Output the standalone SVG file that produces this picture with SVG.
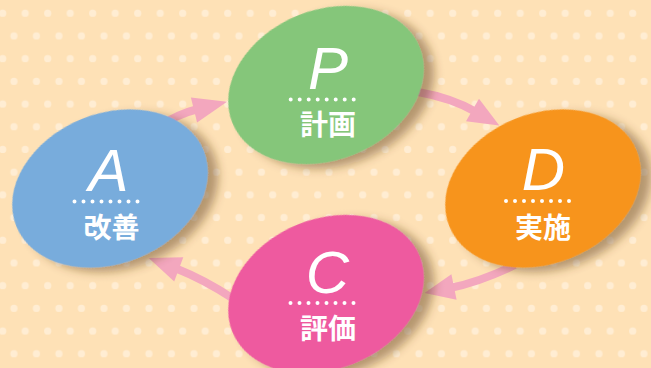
<svg xmlns="http://www.w3.org/2000/svg" width="651" height="368" viewBox="0 0 651 368">
<defs>
<pattern id="dots" patternUnits="userSpaceOnUse" x="-2.9" y="0" width="22.5" height="45.4">
<circle cx="5.6" cy="13.3" r="3.6" fill="#FFEDD3"/>
<circle cx="16.85" cy="36" r="3.6" fill="#FFEDD3"/>
</pattern>
<filter id="sh" x="-20%" y="-20%" width="150%" height="150%">
<feDropShadow dx="8" dy="8" stdDeviation="5" flood-color="#5a3c14" flood-opacity="0.45"/>
</filter>
</defs>
<style>
.body{fill:none;stroke:#F3A7BE;stroke-width:8}
.head{fill:#F3A7BE}
.let{font-family:"Liberation Sans",Arial,sans-serif;font-style:italic;font-size:60px;fill:#fff;text-anchor:middle}
.kj{font-family:"Noto Sans CJK JP","Noto Sans CJK SC",sans-serif;font-weight:700;font-size:28px;fill:#fff;text-anchor:middle}
.dot{stroke:#fff;stroke-width:4;stroke-linecap:round;stroke-dasharray:0 9}
</style>
<rect width="651" height="368" fill="#FEE1B6"/>
<rect width="651" height="368" fill="url(#dots)"/>
<g id="connectors">
<path class="body" d="M160,126 Q178,114 198,109"/>
<polygon class="head" points="227,101.8 197.1,122.6 190.9,97.4"/>
<path class="body" d="M418,92 Q452,98 476,112"/>
<polygon class="head" points="499.3,125.6 466,121.2 479,98.8"/>
<path class="body" d="M515,265 Q480,282 450,288"/>
<polygon class="head" points="424.5,293 456.6,299.7 451.4,274.3"/>
<path class="body" d="M232,298 Q205,280 175,268"/>
<polygon class="head" points="148.7,258 183.3,257.2 174.2,281.6"/>
</g>
<g id="nodeP">
<ellipse cx="0" cy="0" rx="101" ry="75" transform="translate(326,85) rotate(-22)" fill="#85C67A" filter="url(#sh)"/>
<text class="let" x="328" y="89">P</text>
<line class="dot" x1="290.7" y1="99.5" x2="362.7" y2="99.5"/>
<text class="kj" x="328" y="135">計画</text>
</g>
<g id="nodeD">
<ellipse cx="0" cy="0" rx="101" ry="75" transform="translate(543,188.5) rotate(-22)" fill="#F7941E" filter="url(#sh)"/>
<text class="let" x="543.5" y="190">D</text>
<line class="dot" x1="506" y1="201" x2="578" y2="201"/>
<text class="kj" x="543" y="237.5">実施</text>
</g>
<g id="nodeC">
<ellipse cx="0" cy="0" rx="101" ry="75" transform="translate(326,294) rotate(-22)" fill="#EE5A9F" filter="url(#sh)"/>
<text class="let" x="327.5" y="293">C</text>
<line class="dot" x1="290.5" y1="303" x2="362.5" y2="303"/>
<text class="kj" x="328" y="338.5">評価</text>
</g>
<g id="nodeA">
<ellipse cx="0" cy="0" rx="101" ry="75" transform="translate(110,188.5) rotate(-22)" fill="#78ACDC" filter="url(#sh)"/>
<text class="let" x="108.5" y="191">A</text>
<line class="dot" x1="74.5" y1="201.5" x2="146.5" y2="201.5"/>
<text class="kj" x="111.5" y="237.5">改善</text>
</g>
</svg>
